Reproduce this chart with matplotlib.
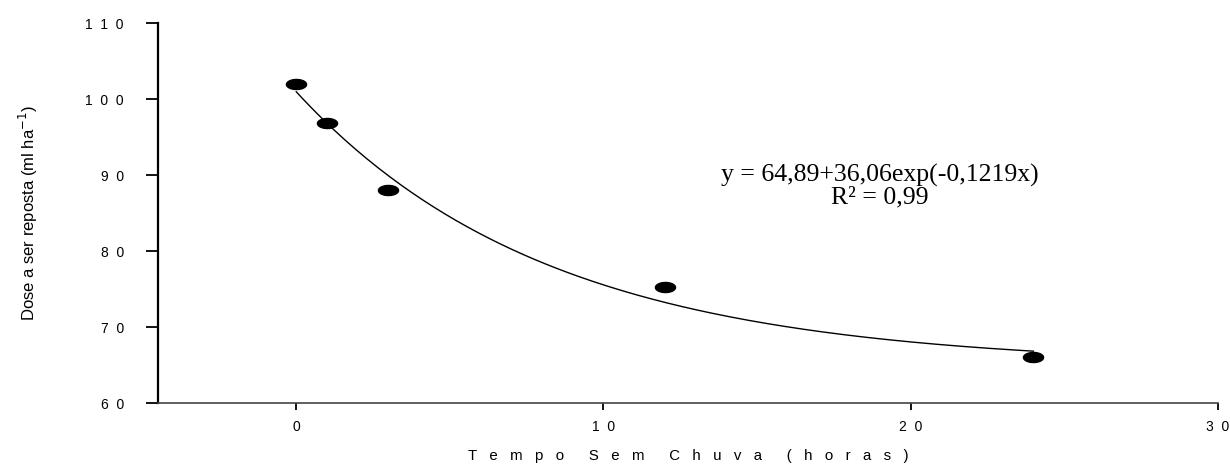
import numpy as np
import matplotlib
matplotlib.use("Agg")
import matplotlib.pyplot as plt
from matplotlib.path import Path

# Data
x_obs = [0, 1, 3, 12, 24]
y_obs = [102.0, 96.8, 88.0, 75.2, 66.0]
a, b, c = 64.89, 36.06, -0.1219
x_ticks = [0, 10, 20, 30]
x_ticklabels = ["0", "1  0", "2  0", "3  0"]
y_ticks = [60, 70, 80, 90, 100, 110]
y_ticklabels = ["6  0", "7  0", "8  0", "9  0", "1  0  0", "1  1  0"]

fig = plt.figure(figsize=(12.3, 4.65), dpi=100)
ax = fig.add_axes([0.1285, 0.1333, 0.990 - 0.1285, 0.9505 - 0.1333])

xf = np.linspace(0, 24, 200)
ax.plot(xf, a + b * np.exp(c * xf), color="black", lw=1.0, zorder=2)

theta = np.linspace(0, 2 * np.pi, 60)
ell = Path(np.column_stack([np.cos(theta), 0.5 * np.sin(theta)]))
ax.plot(x_obs, y_obs, linestyle="none", marker=ell, markersize=14.5,
        color="black", zorder=3)

ax.set_xlim(-4.5, 30)
ax.set_ylim(60, 110)
ax.spines["top"].set_visible(False)
ax.spines["right"].set_visible(False)
ax.spines["left"].set_linewidth(1.6)
ax.spines["bottom"].set_linewidth(1.2)
ax.spines["bottom"].set_color("#444444")

ax.set_xticks(x_ticks)
ax.set_xticklabels(x_ticklabels, fontfamily="Liberation Sans", fontsize=10)
ax.set_yticks(y_ticks)
ax.set_yticklabels(y_ticklabels, fontfamily="Liberation Sans", fontsize=10)
ax.tick_params(axis="y", direction="out", length=8.6, width=1.3, pad=16)
ax.tick_params(axis="x", direction="out", length=5, width=1.3, pad=7)

def spaced(words, letter_gap="   ", word_gap="      "):
    return word_gap.join(letter_gap.join(w) for w in words)

ax.set_xlabel(spaced(["Tempo", "Sem", "Chuva", "(horas)"]),
              fontfamily="Liberation Sans", fontsize=10.8, labelpad=11)
ax.set_ylabel("Dose a ser reposta (ml ha$^{-1}$)",
              fontfamily="Liberation Sans", fontsize=12)
ax.yaxis.set_label_coords(-0.111, 0.5)

ax.text(19.0, 89.2, "y = 64,89+36,06exp(-0,1219x)", ha="center", va="baseline",
        fontfamily="Liberation Serif", fontsize=18.5)
ax.text(19.0, 86.2, "R² = 0,99", ha="center", va="baseline",
        fontfamily="Liberation Serif", fontsize=18.5)

fig.savefig("out.png", dpi=100)
